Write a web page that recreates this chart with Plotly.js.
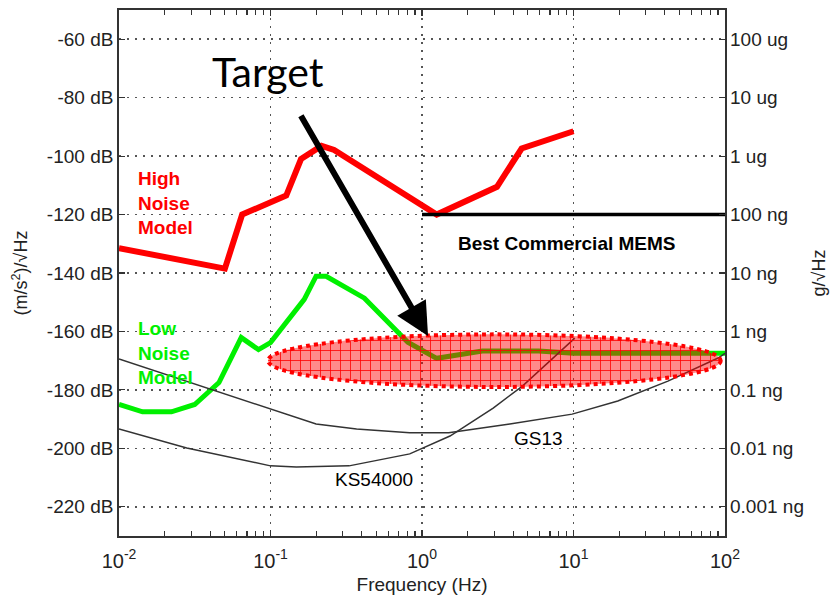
<!DOCTYPE html>
<html>
<head>
<meta charset="utf-8">
<script src="https://cdn.plot.ly/plotly-3.0.1.min.js"></script>
<style>html,body{margin:0;padding:0;background:#fff}</style>
</head>
<body>
<div id="chart" style="width:838px;height:600px"></div>
<script>
// Peterson New High Noise Model (acceleration, dB re 1 (m/s^2)/sqrt(Hz))
const nhnmFreq = [0.01, 0.05, 0.065, 0.127, 0.159, 0.217, 0.263, 1.25, 3.125, 4.545, 10];
const nhnmDb   = [-131.5, -138.5, -120, -113.5, -101, -96.5, -97.9, -120, -110.5, -97.4, -91.5];

// Peterson New Low Noise Model
const nlnmFreq = [0.01, 0.0143, 0.0222, 0.0316, 0.0457, 0.0641, 0.0833, 0.1, 0.167, 0.2, 0.233, 0.417, 0.806, 1.25, 2.5, 5.88, 10, 100];
const nlnmDb   = [-185, -187.5, -187.5, -185, -177.5, -162.1, -166.2, -163.8, -149, -141.1, -141.1, -148.6, -163.7, -169.2, -166.7, -166.7, -167.5, -167.5];

// Instrument self-noise curves
const gs13Freq = [0.01, 0.04, 0.1, 0.2, 0.37, 0.83, 1.5, 3.8, 9.8, 19.6, 42, 90, 100];
const gs13Db   = [-169.4, -179.7, -186.5, -191.7, -193.4, -194.7, -194.7, -191.7, -188.3, -183.8, -177, -169.1, -167.5];

const ksFreq = [0.01, 0.028, 0.1, 0.148, 0.33, 0.83, 1.53, 2.95, 4.6, 7, 10.2];
const ksDb   = [-193.4, -199.9, -206, -206.4, -206, -201.9, -195.8, -186.2, -178.7, -170.1, -162.3];

// Best commercial MEMS floor (100 ng/sqrt(Hz))
const memsFreq = [1, 100];
const memsDb   = [-120, -120];

// Axis ticks
const decadeVals  = [0.01, 0.1, 1, 10, 100];
const decadeText  = ['10<sup>-2</sup>', '10<sup>-1</sup>', '10<sup>0</sup>', '10<sup>1</sup>', '10<sup>2</sup>'];
const dbTicks     = [-60, -80, -100, -120, -140, -160, -180, -200, -220];
const gTickText   = ['100 ug', '10 ug', '1 ug', '100 ng', '10 ng', '1 ng', '0.1 ng', '0.01 ng', '0.001 ng'];

const minorVals = [];
decadeVals.slice(0, -1).forEach(d => { for (let m = 2; m <= 9; m++) minorVals.push(d * m); });

const FONT = 'Liberation Sans, Arial, sans-serif';
const INK = '#222';

const thin = {color: '#333', width: 1.5};

const traces = [
  {x: nhnmFreq, y: nhnmDb, mode: 'lines', line: {color: '#ff0000', width: 6}, hoverinfo: 'skip'},
  {x: nlnmFreq, y: nlnmDb, mode: 'lines', line: {color: '#00f000', width: 5}, hoverinfo: 'skip'},
  {x: gs13Freq, y: gs13Db, mode: 'lines', line: thin, hoverinfo: 'skip'},
  {x: ksFreq, y: ksDb, mode: 'lines', line: thin, hoverinfo: 'skip'},
  {x: memsFreq, y: memsDb, mode: 'lines', line: {color: '#000', width: 3.5}, hoverinfo: 'skip', yaxis: 'y2'}
];

const gridDash = '2px,6px';

const layout = {
  width: 838, height: 600,
  margin: {l: 119, r: 113, t: 10, b: 64},
  paper_bgcolor: '#fff', plot_bgcolor: '#fff',
  showlegend: false,
  font: {family: FONT, size: 18, color: INK},
  xaxis: {
    type: 'log', range: [-2, 2],
    tickvals: decadeVals, ticktext: decadeText,
    ticks: 'inside', ticklen: 6, tickcolor: '#333', tickwidth: 1.2,
    minor: {tickvals: minorVals, ticks: 'inside', ticklen: 5, tickcolor: '#333', showgrid: false},
    showline: true, linecolor: '#333', linewidth: 1.8, mirror: 'ticks',
    showgrid: true, gridcolor: '#555', gridwidth: 1.5, griddash: gridDash,
    zeroline: false,
    ticklabelstandoff: 6,
    tickfont: {family: FONT, size: 20, color: INK},
    title: {text: 'Frequency (Hz)', font: {family: FONT, size: 19, color: INK}, standoff: 7}
  },
  yaxis: {
    range: [-230, -50],
    tickvals: dbTicks, ticktext: dbTicks.map(v => String(v) + ' dB'),
    ticks: 'inside', ticklen: 6, tickcolor: '#333', tickwidth: 1.2,
    showline: true, linecolor: '#333', linewidth: 1.8, mirror: true,
    showgrid: true, gridcolor: '#555', gridwidth: 1.5, griddash: gridDash,
    zeroline: false,
    tickfont: {family: FONT, size: 19, color: INK},
    title: {text: '(m/s<sup>2</sup>)/√Hz', font: {family: FONT, size: 18, color: INK}, standoff: 14}
  },
  yaxis2: {
    overlaying: 'y', side: 'right', range: [-230, -50],
    tickvals: dbTicks, ticktext: gTickText,
    ticks: 'inside', ticklen: 6, tickcolor: '#333', tickwidth: 1.2,
    showline: false, showgrid: false, zeroline: false,
    ticklabelstandoff: 4,
    tickfont: {family: FONT, size: 19, color: INK},
    title: {text: 'g/√Hz', font: {family: FONT, size: 18, color: INK}, standoff: 9}
  },
  shapes: [
    // target region
    {type: 'circle', xref: 'paper', yref: 'y', x0: 0.246, x1: 0.993, y0: -179, y1: -161,
     fillcolor: 'rgba(255,0,0,0.5)', line: {color: '#ff0000', width: 4, dash: '4px,4px'}, layer: 'above'}
  ],
  annotations: [
    {xref: 'paper', yref: 'y', x: 0.028, y: -116.1, xanchor: 'left', yanchor: 'middle', align: 'left',
     text: '<b>High<br>Noise<br>Model</b>', showarrow: false, font: {family: FONT, size: 19, color: '#ff0000'}},
    {xref: 'paper', yref: 'y', x: 0.028, y: -167.4, xanchor: 'left', yanchor: 'middle', align: 'left',
     text: '<b>Low<br>Noise<br>Model</b>', showarrow: false, font: {family: FONT, size: 19, color: '#00f000'}},
    {xref: 'x', yref: 'y', x: 0.954, y: -129.8, xanchor: 'center', yanchor: 'middle',
     text: '<b>Best Commercial MEMS</b>', showarrow: false, font: {family: FONT, size: 19, color: '#000'}},
    {xref: 'x', yref: 'y', x: -0.317, y: -210.8, xanchor: 'center', yanchor: 'middle',
     text: 'KS54000', showarrow: false, font: {family: FONT, size: 19, color: '#000'}},
    {xref: 'x', yref: 'y', x: 0.766, y: -196.6, xanchor: 'center', yanchor: 'middle',
     text: 'GS13', showarrow: false, font: {family: FONT, size: 19, color: '#000'}},
    {xref: 'x', yref: 'y', x: -1.017, y: -71, xanchor: 'center', yanchor: 'middle',
     text: 'Target', showarrow: false, font: {family: 'Lato, Open Sans, sans-serif', size: 41, color: '#000'}},
    // pointer into the target region
    {xref: 'x', yref: 'y', axref: 'x', ayref: 'y', x: 0.04, y: -161.6, ax: -0.805, ay: -85.7,
     text: '', showarrow: true, arrowhead: 2, arrowwidth: 6, arrowsize: 1.1, arrowcolor: '#000', standoff: 0}
  ]
};

// Cross-hatched fill for the target ellipse
function hatchTarget(gd) {
  const svg = gd.querySelector('svg.main-svg');
  const ns = 'http://www.w3.org/2000/svg';
  let defs = svg.querySelector('defs');
  if (!defs) { defs = document.createElementNS(ns, 'defs'); svg.insertBefore(defs, svg.firstChild); }
  const pat = document.createElementNS(ns, 'pattern');
  pat.setAttribute('id', 'targetGrid');
  pat.setAttribute('patternUnits', 'userSpaceOnUse');
  pat.setAttribute('width', '10');
  pat.setAttribute('height', '10');
  pat.innerHTML =
    '<rect width="10" height="10" fill="rgba(255,0,0,0.46)"/>' +
    '<path d="M0,0.5H10M0.5,0V10" stroke="rgba(255,0,0,0.8)" stroke-width="1"/>';
  defs.appendChild(pat);
  gd.querySelectorAll('.shapelayer path').forEach(p => {
    p.style.fill = 'url(#targetGrid)';
    p.style.fillOpacity = '1';
  });
}

Plotly.newPlot('chart', traces, layout, {staticPlot: true, displayModeBar: false})
  .then(hatchTarget);
</script>
</body>
</html>
